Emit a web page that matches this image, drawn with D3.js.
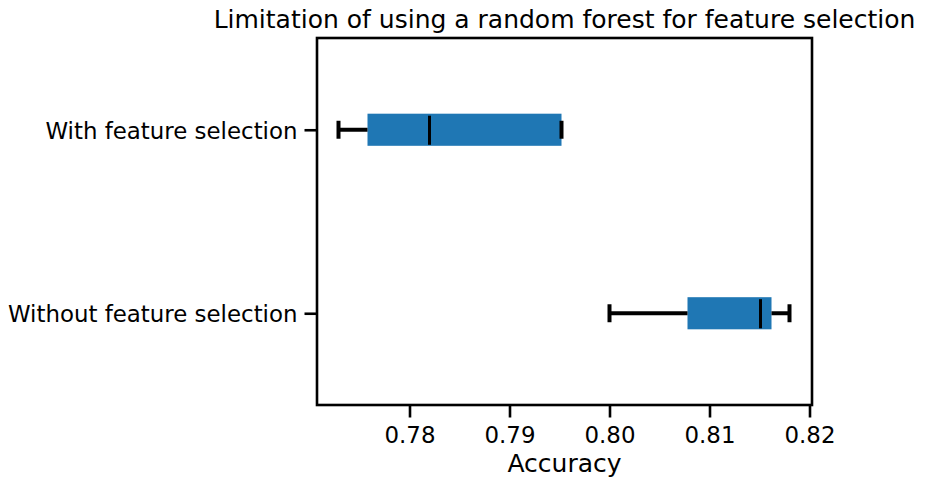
<!DOCTYPE html>
<html>
<head>
<meta charset="utf-8">
<script src="https://cdn.jsdelivr.net/npm/d3@7"></script>
<style>
  html, body { margin: 0; padding: 0; background: #fff; }
  svg { display: block; font-family: "DejaVu Sans", sans-serif; }
</style>
</head>
<body>
<svg id="chart" width="926" height="486"></svg>
<script>
// ---- Data ----
const categories = ["Without feature selection", "With feature selection"];
const positions = [1, 2];
const whiskerLow = [0.8000, 0.7729];
const q1 = [0.8078, 0.7758];
const medians = [0.8151, 0.7820];
const q3 = [0.8162, 0.7952];
const whiskerHigh = [0.8180, 0.7952];
const xTicks = [0.78, 0.79, 0.80, 0.81, 0.82];
const title = "Limitation of using a random forest for feature selection";
const xLabel = "Accuracy";

// ---- Layout ----
const svg = d3.select("#chart");
const mLeft = 317, mRight = 812, mTop = 38, mBottom = 405;
const boxWidth = 0.175; // in position units
const whiskerLw = 4;
const medianLw = 3;

const x = d3.scaleLinear().domain([0.77075, 0.82025]).range([mLeft, mRight]);
const y = d3.scaleLinear().domain([0.5, 2.5]).range([mBottom, mTop]);

const data = categories.map((c, i) => ({
  cat: c, pos: positions[i], lo: whiskerLow[i], q1: q1[i], med: medians[i], q3: q3[i], hi: whiskerHigh[i]
}));

const g = svg.append("g");
const halfBox = (y(0) - y(boxWidth)) / 2;
const halfCap = halfBox * 0.56;

data.forEach(d => {
  const cy = y(d.pos);
  g.append("rect")
    .attr("x", x(d.q1)).attr("y", cy - halfBox)
    .attr("width", x(d.q3) - x(d.q1)).attr("height", 2 * halfBox)
    .attr("fill", "#1f77b4");
  g.append("line").attr("x1", x(d.lo)).attr("x2", x(d.q1)).attr("y1", cy).attr("y2", cy)
    .attr("stroke", "#000").attr("stroke-width", whiskerLw);
  g.append("line").attr("x1", x(d.q3)).attr("x2", x(d.hi)).attr("y1", cy).attr("y2", cy)
    .attr("stroke", "#000").attr("stroke-width", whiskerLw);
  [d.lo, d.hi].forEach(v => {
    g.append("line").attr("x1", x(v)).attr("x2", x(v)).attr("y1", cy - halfCap).attr("y2", cy + halfCap)
      .attr("stroke", "#000").attr("stroke-width", whiskerLw);
  });
  g.append("line").attr("x1", x(d.med)).attr("x2", x(d.med)).attr("y1", cy - halfBox + 2).attr("y2", cy + halfBox - 1)
    .attr("stroke", "#000").attr("stroke-width", medianLw);
});

// ---- Axes ----
const fs = 22.9;
const xAxis = d3.axisBottom(x).tickValues(xTicks).tickFormat(d3.format(".2f"))
  .tickSizeInner(12.5).tickSizeOuter(0).tickPadding(7);
const gx = svg.append("g").attr("transform", `translate(0,${mBottom})`).call(xAxis);
gx.select(".domain").remove();
gx.selectAll(".tick line").attr("stroke", "#000").attr("stroke-width", 2.6);
gx.selectAll(".tick text").attr("font-size", fs).attr("fill", "#000")
  .attr("font-family", "DejaVu Sans").attr("dy", "0.8em");

const yAxis = d3.axisLeft(y).tickValues(positions).tickFormat((d, i) => categories[i])
  .tickSizeInner(12.5).tickSizeOuter(0).tickPadding(7);
const gy = svg.append("g").attr("transform", `translate(${mLeft},0)`).call(yAxis);
gy.select(".domain").remove();
gy.selectAll(".tick line").attr("stroke", "#000").attr("stroke-width", 2.6);
gy.selectAll(".tick text").attr("font-size", fs).attr("fill", "#000")
  .attr("font-family", "DejaVu Sans").attr("dy", "0.38em");

// frame
svg.append("rect").attr("x", mLeft).attr("y", mTop).attr("width", mRight - mLeft).attr("height", mBottom - mTop)
  .attr("fill", "none").attr("stroke", "#000").attr("stroke-width", 2.6);

// title & label
svg.append("text").attr("x", (mLeft + mRight) / 2).attr("y", 28).attr("text-anchor", "middle")
  .attr("font-size", 25).attr("fill", "#000").text(title);
svg.append("text").attr("x", (mLeft + mRight) / 2).attr("y", 472).attr("text-anchor", "middle")
  .attr("font-size", 25).attr("fill", "#000").text(xLabel);
</script>
</body>
</html>
